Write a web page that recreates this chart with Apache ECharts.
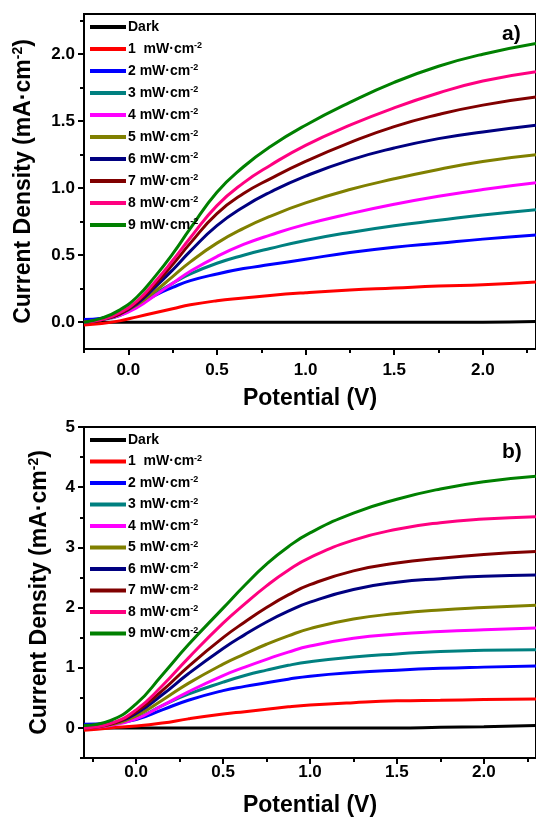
<!DOCTYPE html>
<html>
<head>
<meta charset="utf-8">
<script src="https://cdn.jsdelivr.net/npm/echarts@6/dist/echarts.min.js"></script>
<style>
  html, body { margin: 0; padding: 0; background: #fff; }
  #main { width: 536px; height: 818px; }
</style>
</head>
<body>
<div id="main"></div>
<script>
// series names and colours (same for both panels)
var names = ['Dark', '1  mW·cm-2', '2 mW·cm-2', '3 mW·cm-2', '4 mW·cm-2', '5 mW·cm-2',
             '6 mW·cm-2', '7 mW·cm-2', '8 mW·cm-2', '9 mW·cm-2'];
var colors = ['#000000', '#ff0000', '#0000ff', '#008080', '#ff00ff', '#808000',
              '#000080', '#800000', '#ff0080', '#008000'];

// panel a) potential (V)
var potA = [-0.25, -0.15, -0.05, 0.05, 0.15, 0.25, 0.35, 0.5, 0.65, 0.8, 1.0, 1.25, 1.5, 1.75, 2.0, 2.3];
var a_dark = [-0.01, 0, 0, 0, 0, 0, 0, 0, 0, 0, 0, 0, 0, 0, 0, 0.005];
var a_1 = [-0.02, -0.01, 0.01, 0.04, 0.07, 0.10, 0.13, 0.16, 0.18, 0.20, 0.22, 0.24, 0.255, 0.27, 0.28, 0.30];
var a_2 = [0.02, 0.03, 0.06, 0.12, 0.20, 0.26, 0.31, 0.36, 0.40, 0.43, 0.47, 0.52, 0.56, 0.59, 0.62, 0.65];
var a_3 = [0.00, 0.02, 0.05, 0.12, 0.21, 0.29, 0.36, 0.44, 0.50, 0.55, 0.61, 0.67, 0.72, 0.76, 0.80, 0.84];
var a_4 = [0.00, 0.02, 0.05, 0.11, 0.20, 0.29, 0.38, 0.49, 0.58, 0.65, 0.73, 0.81, 0.88, 0.94, 0.99, 1.04];
var a_5 = [0.00, 0.02, 0.06, 0.13, 0.23, 0.34, 0.45, 0.59, 0.70, 0.79, 0.89, 0.99, 1.07, 1.14, 1.20, 1.25];
var a_6 = [0.00, 0.02, 0.06, 0.14, 0.26, 0.39, 0.53, 0.72, 0.86, 0.97, 1.09, 1.21, 1.30, 1.37, 1.42, 1.47];
var a_7 = [0.00, 0.02, 0.06, 0.15, 0.28, 0.43, 0.59, 0.81, 0.96, 1.07, 1.20, 1.34, 1.46, 1.55, 1.62, 1.68];
var a_8 = [0.00, 0.02, 0.07, 0.16, 0.30, 0.46, 0.63, 0.87, 1.04, 1.17, 1.32, 1.47, 1.60, 1.71, 1.80, 1.87];
var a_9 = [0.00, 0.03, 0.09, 0.19, 0.34, 0.51, 0.70, 0.97, 1.16, 1.31, 1.47, 1.64, 1.79, 1.91, 2.00, 2.08];

// panel b) potential (V)
var potB = [-0.3, -0.15, 0, 0.15, 0.3, 0.5, 0.625, 0.75, 0.875, 1.0, 1.25, 1.5, 1.75, 2.0, 2.3];
var b_dark = [-0.02, 0, 0, 0, 0, 0, 0, 0, 0, 0, 0, 0, 0.01, 0.02, 0.04];
var b_1 = [-0.04, 0.00, 0.03, 0.08, 0.15, 0.23, 0.27, 0.31, 0.35, 0.38, 0.42, 0.45, 0.46, 0.47, 0.48];
var b_2 = [0.06, 0.08, 0.14, 0.30, 0.46, 0.62, 0.69, 0.75, 0.81, 0.86, 0.92, 0.96, 0.99, 1.01, 1.03];
var b_3 = [0.02, 0.06, 0.16, 0.37, 0.56, 0.76, 0.87, 0.96, 1.04, 1.10, 1.18, 1.23, 1.27, 1.29, 1.30];
var b_4 = [0.00, 0.04, 0.15, 0.37, 0.60, 0.87, 1.01, 1.14, 1.26, 1.36, 1.49, 1.56, 1.60, 1.63, 1.66];
var b_5 = [0.00, 0.05, 0.20, 0.46, 0.74, 1.06, 1.23, 1.39, 1.53, 1.65, 1.81, 1.90, 1.96, 2.00, 2.04];
var b_6 = [0.02, 0.07, 0.24, 0.55, 0.90, 1.32, 1.55, 1.76, 1.94, 2.09, 2.30, 2.42, 2.48, 2.52, 2.54];
var b_7 = [0.00, 0.06, 0.27, 0.62, 1.02, 1.50, 1.76, 2.00, 2.21, 2.38, 2.61, 2.74, 2.82, 2.88, 2.93];
var b_8 = [0.00, 0.07, 0.30, 0.70, 1.16, 1.74, 2.06, 2.36, 2.62, 2.83, 3.12, 3.30, 3.41, 3.47, 3.51];
var b_9 = [0.04, 0.12, 0.40, 0.88, 1.38, 1.99, 2.37, 2.72, 3.01, 3.24, 3.57, 3.80, 3.97, 4.09, 4.18];

// tick labels
var xTicks = [0, 0.5, 1.0, 1.5, 2.0];
var xMinor = [-0.25, 0.25, 0.75, 1.25, 1.75, 2.25];
var yTicksA = [0, 0.5, 1.0, 1.5, 2.0];
var yMinorA = [0.25, 0.75, 1.25, 1.75, 2.25];
var yTicksB = [0, 1, 2, 3, 4, 5];
var yMinorB = [-0.5, 0.5, 1.5, 2.5, 3.5, 4.5];

var curvesA = [a_dark, a_1, a_2, a_3, a_4, a_5, a_6, a_7, a_8, a_9];
var curvesB = [b_dark, b_1, b_2, b_3, b_4, b_5, b_6, b_7, b_8, b_9];

var FONT = 'Liberation Sans';

function pairs(xs, ys) {
  return xs.map(function (x, i) { return [x, ys[i]]; });
}

function mainX(grid, min, margin, gap) {
  return {
    gridIndex: grid, type: 'value', min: min, max: 2.3, position: 'bottom',
    name: 'Potential (V)', nameLocation: 'middle', nameGap: gap,
    nameTextStyle: { fontFamily: FONT, fontWeight: 'bold', fontSize: 23, color: '#000' },
    axisLine: { onZero: false, lineStyle: { color: '#000', width: 2 } },
    axisTick: { customValues: xTicks, length: 6, lineStyle: { color: '#000', width: 2 } },
    axisLabel: { customValues: xTicks, margin: margin, fontFamily: FONT, fontWeight: 'bold',
                 fontSize: 17, color: '#000', formatter: function (v) { return v.toFixed(1); } },
    splitLine: { show: false }
  };
}
function minorX(grid, min) {
  return {
    gridIndex: grid, type: 'value', min: min, max: 2.3, position: 'bottom',
    axisLine: { show: false, onZero: false },
    axisTick: { show: true, customValues: xMinor, length: 4, lineStyle: { color: '#000', width: 2 } },
    axisLabel: { show: false }, splitLine: { show: false }
  };
}
function mainY(grid, min, max, ticks, digits, gap) {
  return {
    gridIndex: grid, type: 'value', min: min, max: max, position: 'left',
    name: '{t|Current Density (mA·cm}{s|-2}{t|)}', nameLocation: 'middle', nameGap: gap,
    nameTextStyle: { fontFamily: FONT, fontWeight: 'bold', fontSize: 23, color: '#000',
      rich: {
        t: { fontFamily: FONT, fontWeight: 'bold', fontSize: 23, color: '#000', lineHeight: 26 },
        s: { fontFamily: FONT, fontWeight: 'bold', fontSize: 14, color: '#000', lineHeight: 14, verticalAlign: 'top' }
      } },
    axisLine: { onZero: false, lineStyle: { color: '#000', width: 2 } },
    axisTick: { customValues: ticks, length: 6, lineStyle: { color: '#000', width: 2 } },
    axisLabel: { customValues: ticks, margin: 9, fontFamily: FONT, fontWeight: 'bold',
                 fontSize: 17, color: '#000', formatter: function (v) { return v.toFixed(digits); } },
    splitLine: { show: false }
  };
}
function minorY(grid, min, max, ticks) {
  return {
    gridIndex: grid, type: 'value', min: min, max: max, position: 'left',
    axisLine: { show: false, onZero: false },
    axisTick: { show: true, customValues: ticks, length: 4, lineStyle: { color: '#000', width: 2 } },
    axisLabel: { show: false }, splitLine: { show: false }
  };
}
function legendAt(top, gap) {
  return {
    orient: 'vertical', left: 90, top: top, padding: 0, icon: 'rect',
    itemWidth: 36, itemHeight: 4, itemGap: gap, data: names,
    formatter: function (n) {
      if (n === 'Dark') return '{t|Dark}';
      return '{t|' + n.replace(/-2$/, '') + '}{s|-2}';
    },
    textStyle: {
      padding: [0, 0, 0, -3],
      rich: {
        t: { fontFamily: FONT, fontWeight: 'bold', fontSize: 14, color: '#000', lineHeight: 15 },
        s: { fontFamily: FONT, fontWeight: 'bold', fontSize: 9, color: '#000', lineHeight: 9, verticalAlign: 'top' }
      }
    }
  };
}

var series = [];
names.forEach(function (n, i) {
  series.push({
    name: n, type: 'line', xAxisIndex: 0, yAxisIndex: 0, smooth: 0.5,
    showSymbol: false, symbol: 'none', color: colors[i],
    lineStyle: { width: 3, color: colors[i] }, data: pairs(potA, curvesA[i])
  });
});
names.forEach(function (n, i) {
  series.push({
    name: n, type: 'line', xAxisIndex: 2, yAxisIndex: 2, smooth: 0.5,
    showSymbol: false, symbol: 'none', color: colors[i],
    lineStyle: { width: 3, color: colors[i] }, data: pairs(potB, curvesB[i])
  });
});

var chart = echarts.init(document.getElementById('main'));
chart.setOption({
  animation: false,
  backgroundColor: '#fff',
  title: [
    { text: 'a)', left: 497, top: 19, textStyle: { fontFamily: FONT, fontWeight: 'bold', fontSize: 21, color: '#000' } },
    { text: 'b)', left: 497, top: 437, textStyle: { fontFamily: FONT, fontWeight: 'bold', fontSize: 21, color: '#000' } }
  ],
  legend: [legendAt(20, 7.5), legendAt(433, 7)],
  grid: [
    { left: 84, top: 14, right: -2, height: 335, show: true, borderColor: '#000', borderWidth: 2 },
    { left: 84, top: 427, right: -2, height: 334, show: true, borderColor: '#000', borderWidth: 2 }
  ],
  xAxis: [mainX(0, -0.25, 13, 38), minorX(0, -0.25), mainX(1, -0.3, 6, 36), minorX(1, -0.3)],
  yAxis: [mainY(0, -0.2, 2.3, yTicksA, 1, 47), minorY(0, -0.2, 2.3, yMinorA),
          mainY(1, -0.5, 5, yTicksB, 0, 31), minorY(1, -0.5, 5, yMinorB)],
  series: series
});
</script>
</body>
</html>
